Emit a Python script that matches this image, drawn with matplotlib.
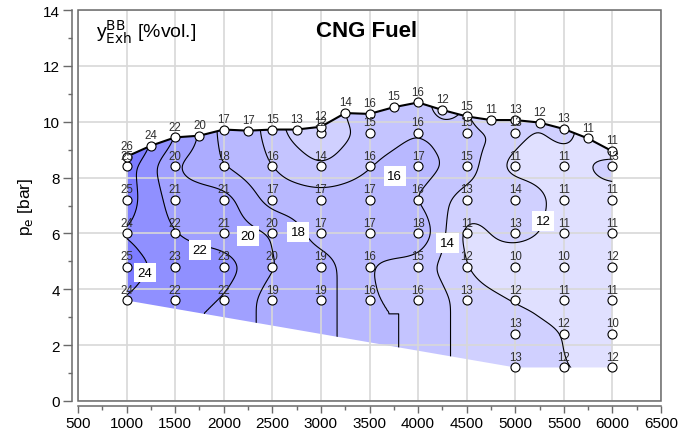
import numpy as np
import matplotlib
matplotlib.use("Agg")
import matplotlib.pyplot as plt
from matplotlib.colors import ListedColormap, BoundaryNorm
from matplotlib.path import Path
from matplotlib.patches import PathPatch, Rectangle

plt.rcParams['font.family'] = ['Liberation Sans', 'DejaVu Sans']

# full-load curve: engine speed [1/min], pe [bar], value [%vol.]
fl_rpm = [1000, 1250, 1500, 1750, 2000, 2250, 2500, 2750, 3000, 3250, 3500,
          3750, 4000, 4250, 4500, 4750, 5000, 5250, 5500, 5750, 6000]
fl_pe = [8.75, 9.14, 9.44, 9.50, 9.72, 9.68, 9.72, 9.72, 9.82, 10.31, 10.28,
         10.52, 10.69, 10.42, 10.19, 10.06, 10.06, 9.97, 9.74, 9.40, 8.94]
fl_val = [26, 24, 22, 20, 17, 17, 15, 13, 12, 14, 16,
          15, 16, 12, 15, 11, 13, 12, 13, 11, 11]

# part-load measuring grid
rpm_full = [1000, 1500, 2000, 2500, 3000, 3500, 4000, 4500, 5000, 5500, 6000]
rpm_high = [3000, 3500, 4000, 4500, 5000]
rpm_low = [5000, 5500, 6000]
val_96 = [12, 15, 16, 15, 13]
val_84 = [25, 20, 18, 16, 14, 16, 17, 15, 11, 11, 13]
val_72 = [25, 21, 21, 17, 17, 17, 16, 13, 14, 11, 11]
val_60 = [24, 22, 21, 20, 17, 17, 18, 11, 13, 11, 11]
val_48 = [25, 23, 23, 20, 19, 16, 15, 12, 10, 10, 12]
val_36 = [24, 22, 22, 19, 19, 16, 16, 13, 12, 11, 11]
val_24 = [13, 12, 10]
val_12 = [13, 12, 12]

levels = [10, 12, 14, 16, 18, 20, 22, 24, 26]
band_colors = ['#e0e0ff', '#d0d0ff', '#c4c4ff', '#b8b8ff',
               '#acacff', '#a0a0ff', '#9090ff', '#7c7cff']

rows = [(9.6, rpm_high, val_96), (8.4, rpm_full, val_84), (7.2, rpm_full, val_72),
        (6.0, rpm_full, val_60), (4.8, rpm_full, val_48), (3.6, rpm_full, val_36),
        (2.4, rpm_low, val_24), (1.2, rpm_low, val_12)]
gx, gy, gv = [], [], []
for pe, rpms, vals in rows:
    gx += rpms
    gy += [pe] * len(rpms)
    gv += vals

x_all = np.array(gx + fl_rpm, float)
y_all = np.array(gy + fl_pe, float)
v_all = np.array(gv + fl_val, float)

# interpolate the map: first along each pe row, then along pe at each speed
xs = np.linspace(1000, 6000, 251)
ys = np.linspace(1.0, 10.8, 246)
Z = np.zeros((len(ys), len(xs)))
for j, x in enumerate(xs):
    pts = [(np.interp(x, fl_rpm, fl_pe), np.interp(x, fl_rpm, fl_val))]
    for pe, rpms, vals in rows:
        if rpms[0] <= x <= rpms[-1]:
            pts.append((pe, np.interp(x, rpms, vals)))
    pts.sort()
    Z[:, j] = np.interp(ys, [p[0] for p in pts], [p[1] for p in pts])


def smooth(a, n, axis):
    k = np.ones(n) / n
    pad = [(0, 0), (0, 0)]
    pad[axis] = (n // 2, n - 1 - n // 2)
    a = np.pad(a, pad, mode='edge')
    return np.apply_along_axis(lambda v: np.convolve(v, k, mode='valid'), axis, a)


for _ in range(2):
    Z = smooth(Z, 11, 1)
    Z = smooth(Z, 13, 0)
X, Y = np.meshgrid(xs, ys)

fig = plt.figure(figsize=(6.97, 4.39), dpi=100)
ax = fig.add_axes([0.1119, 0.0843, 0.8365, 0.8906])

cmap = ListedColormap(band_colors)
norm = BoundaryNorm(levels, cmap.N)
cf = ax.contourf(X, Y, Z, levels=levels, cmap=cmap, norm=norm, extend='both', zorder=1)
cl = ax.contour(X, Y, Z, levels=levels[1:-1], colors='black',
                linewidths=0.8, zorder=3)

# map boundary: full load on top, straight lower limit
bx = fl_rpm + [rpm_low[-1], rpm_low[0], rpm_full[0], fl_rpm[0]]
by = fl_pe + [1.2, 1.2, 3.6, fl_pe[0]]
clip = PathPatch(Path(np.column_stack([bx, by]), closed=True),
                 transform=ax.transData, facecolor='none', edgecolor='none')
cf.set_clip_path(clip)
cl.set_clip_path(clip)

label_pos = [(1190, 4.6), (1755, 5.4), (2250, 5.9), (2765, 6.05),
             (3760, 8.05), (4300, 5.65), (5285, 6.45)]
labels = ax.clabel(cl, manual=label_pos, fmt='%d', fontsize=9.5, inline=False)
for t, pos in zip(labels, label_pos):
    t.set_position(pos)
    t.set_bbox(dict(facecolor='white', edgecolor='none', pad=2.8))
    t.set_rotation(0)
    t.set_zorder(6)

ax.plot(fl_rpm, fl_pe, color='black', lw=1.5, zorder=4)
ax.plot(x_all, y_all, 'o', ms=6.5, mfc='white', mec='black', mew=0.8, zorder=5)
for xi, yi, vi in zip(x_all, y_all, v_all):
    ax.annotate('%d' % vi, (xi, yi), xytext=(0, 3.5), textcoords='offset points',
                ha='center', va='bottom', fontsize=8.3, color='#303030', zorder=7)

ax.text(690, 13.25, r'y$_{\mathrm{Exh}}^{\mathrm{BB}}$ [%vol.]', fontsize=14,
        va='center', ha='left')
ax.text(3470, 13.25, 'CNG Fuel', fontsize=16, fontweight='bold',
        va='center', ha='center')

ax.set_xlim(500, 6500)
ax.set_ylim(0, 14)
ax.set_xticks(np.arange(500, 6501, 500))
ax.set_xticks(np.arange(750, 6500, 500), minor=True)
ax.set_yticks(np.arange(0, 15, 2))
ax.set_yticks(np.arange(1, 14, 2), minor=True)
ax.grid(True, which='major', color='#d8d8d8', lw=1.2)
ax.set_axisbelow(False)
for gl in ax.get_xgridlines() + ax.get_ygridlines():
    gl.set_zorder(2)
ax.set_ylabel(r'p$_\mathrm{e}$ [bar]', fontsize=12.5, labelpad=6)

spine_c = '#6a6a6a'
ax.spines['left'].set_position(('outward', 4))
ax.spines['bottom'].set_position(('outward', 3.5))
ax.spines['top'].set_visible(False)
ax.spines['right'].set_visible(False)
for s in ('left', 'bottom'):
    ax.spines[s].set_color(spine_c)
    ax.spines[s].set_linewidth(1.1)
ax.add_patch(Rectangle((0, 0), 1, 1, transform=ax.transAxes, fill=False,
                       edgecolor=spine_c, lw=1.1, clip_on=False, zorder=8))
ax.tick_params(which='both', color=spine_c, width=1.0, labelsize=11, pad=2.5)
ax.tick_params(axis='y', which='major', length=6.5)
ax.tick_params(axis='x', which='major', length=5)
ax.tick_params(which='minor', length=3.2)

fig.savefig('out.png', dpi=100)
